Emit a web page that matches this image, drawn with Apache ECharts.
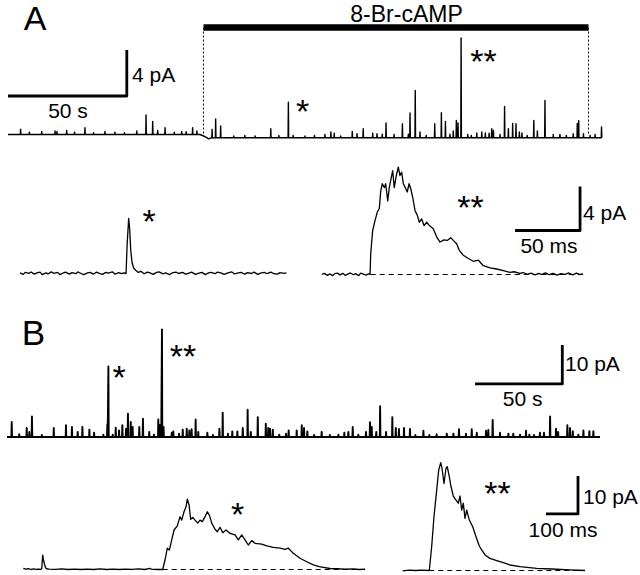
<!DOCTYPE html>
<html><head><meta charset="utf-8">
<script src="https://cdn.jsdelivr.net/npm/echarts@6/dist/echarts.min.js"></script>
<style>html,body{margin:0;padding:0;background:#fff}#c{width:640px;height:575px}</style>
</head><body><div id="c"></div>
<script>
// ---------- Panel A, long recording (time s, current pA) ----------
const aTopBaseline = [[0,0],[80.8,0],[82.5,-0.15],[84.5,-0.38],[86.5,-0.3],[250,-0.28]];
const aTopSpikesPre = [[5.3,0.45],[9,0.2],[14.2,0.26],[19.8,0.3],[20.6,0.26],[24.7,0.35],[28,0.2],[32.4,0.6],[36,0.15],[40.8,0.26],[45,0.2],[49,0.15],[54.2,0.3],[58.1,1.7],[60.9,1.13],[63,0.35],[66.1,0.6],[70,0.2],[73.1,0.26],[75,0.25],[77.7,0.6],[79.5,0.3]];
const aTopSpikesPost = [[85.9,0.73],[87.4,1.63],[89.5,1.02],[95,0.15],[99.7,0.2],[104,0.15],[110.6,0.78],[114,0.2],[118.0,3.08],[120,0.2],[125,0.15],[129,0.2],[133.4,0.29],[135.9,0.5],[137.3,0.4],[140,0.15],[144.9,0.55],[146.9,0.35],[149.5,0.78],[153.5,0.4],[155.3,0.35],[157.5,0.3],[159.1,1.28],[162.5,0.29],[166.0,1.22],[168.5,0.3],[169.2,2.15],[171.4,4.11],[173.4,0.5],[176,0.2],[179.6,1.22],[182.4,2.17],[184.1,1.42],[186,0.3],[187.4,0.58],[188.7,1.5],[189.4,1.28],[190.7,8.67],[193.5,0.29],[195,0.2],[197.3,0.41],[199.4,0.5],[200.9,0.41],[202.5,0.4],[203.6,0.78],[204.3,0.63],[207.1,0.29],[209.0,2.72],[210.6,0.78],[212.4,1.24],[213.8,1.22],[215.2,0.5],[216.3,0.41],[218.5,0.2],[221.3,1.5],[222.8,0.58],[226.0,3.24],[229.5,0.29],[232.3,0.29],[235,0.2],[237.9,0.35],[239.6,1.24],[240.2,1.48],[242.2,0.35],[245,0.2],[247.1,0.29],[249.8,0.93]];
const aPostBase = -0.28;
const drugPeriod = [82.28, 244.32];       // 8-Br-cAMP application (s)
const aTopScaleBar = [[0,3.35],[50,3.35],[50,7.35]];   // 50 s, 4 pA

// ---------- Panel A, expanded events (time ms, current pA) ----------
const aStarTrace = [[0,0.05],[2.5,-0.08],[4,0.1],[7,0.02],[8.5,0.14],[11,-0.06],[13,0.05],[15.5,0.12],[17,-0.1],[20,0.06],[21.5,-0.04],[24,0.15],[26,0.02],[29,0.1],[30.5,-0.1],[33,0.04],[35,0.12],[38,-0.06],[40,0.08],[43,-0.02],[44.5,0.14],[47,0],[49,-0.1],[52,0.06],[54,0.1],[56.5,-0.05],[59,0.12],[61,0.02],[63.5,-0.08],[66,0.1],[68,0.04],[71,0.15],[73,-0.05],[76,0.08],[78,-0.02],[80,0.05],[81.6,0],[82.4,2.6],[83.6,5.0],[84.4,4.0],[85.2,2.1],[86.2,1.0],[87.4,0.5],[89,0.3],[91,0.1],[93,0.2],[95.5,-0.02],[98,0.12],[100,0.05],[102.5,-0.08],[105,0.1],[107,0.15],[110,-0.04],[112,0.06],[115,-0.1],[117,0.05],[120,0.12],[122,0],[125,0.1],[127.5,-0.06],[130,0.04],[132,0.12],[135,-0.08],[137,0.02],[140,0.1],[142.5,-0.1],[145,0.05],[147,0.1],[150,-0.02],[152,0.12],[155,0.04],[157,-0.08],[160,0.06],[163,0.14],[165,-0.04],[168,0.06],[170,0.1],[173,-0.06],[175,0.08],[178,0],[180,0.12],[183,-0.08],[185,0.04],[188,0.1],[190,-0.02],[193,0.12],[195,0],[198,-0.06],[200,0.08],[203,0.02],[205,0.05]];
const aDoubleTrace = [[0,0],[2,0.1],[4.5,-0.08],[6,0.05],[8.5,-0.1],[10,0.08],[12.5,0.12],[14,-0.04],[16.5,0.1],[18,-0.08],[20.5,0.06],[22,0.14],[24.5,-0.02],[26,0.08],[28.5,-0.1],[30,0.12],[32.5,0.02],[34,-0.06],[36,0.06],[37.2,0],[37.7,1.9],[39.2,4.0],[41.0,4.9],[42.8,5.7],[44.3,6.0],[45.4,7.6],[46.6,8.25],[48.2,7.9],[49.2,8.25],[50.8,6.7],[52.0,7.9],[53.3,8.7],[54.6,9.45],[55.8,7.9],[57.4,9.0],[58.9,9.75],[60.2,9.0],[61.5,9.3],[62.8,8.25],[64.3,7.9],[65.8,7.5],[67.2,8.25],[68.5,7.8],[70.0,7.0],[71.8,5.8],[73.5,5.4],[75.1,4.75],[76.9,5.05],[78.7,4.45],[80.8,4.75],[82.8,4.45],[85.8,4.15],[88.5,3.4],[91.0,2.95],[94.1,3.15],[96.6,3.1],[99.2,3.35],[101.2,3.1],[103.8,2.8],[105.8,2.2],[108.9,1.75],[112.8,1.45],[116.6,1.2],[120.5,1.3],[124.3,0.8],[129.5,0.6],[134.6,0.5],[139.7,0.35],[144.8,0.2],[148,0.25],[152.5,0.1],[155,0.18],[158,0.02],[161,0.12],[164,-0.04],[167,0.1],[169,0],[172,0.14],[175,-0.02],[178,0.1],[181,-0.06],[184,0.08],[187,0.02],[190,0.14],[193,-0.04],[196,0.12],[198.5,0],[201,0.06]];
const aDoubleBaseline = [[37.7,0],[201,0]];
const aEventScaleBar = [[148.7,4],[198.7,4],[198.7,8]];  // 50 ms, 4 pA

// ---------- Panel B, long recording (time s, current pA) ----------
const bTopBaseline = [[0,0],[339.8,0]];
const bTopSpikes = [[2.7,3.85],[7.0,0.7],[11.3,2.3],[12.8,1.3],[14.3,5.3],[20,0.5],[26.8,2.3],[33.8,3.0],[37.2,2.56],[40.5,1.3],[43.2,2.56],[47.2,1.9],[49.9,1.1],[55.2,0.6],[57.5,3.3],[58.1,18.1],[60.6,0.6],[62.3,2.4],[64.2,1.7],[66.1,3.0],[68.2,2.1],[69.3,6.0],[70.9,3.85],[72.0,2.56],[75.8,2.56],[77.9,4.7],[81.5,1.3],[84.2,0.6],[86.7,4.5],[87.7,3.1],[88.2,2.4],[88.8,27.6],[89.7,2.6],[94.4,1.1],[95.3,1.45],[98.6,0.85],[100.7,1.9],[103.0,2.1],[104.5,1.7],[105.8,2.0],[108.1,4.5],[109.6,1.3],[114.8,1.1],[118,0.5],[121.7,2.1],[123.6,6.2],[126.6,0.85],[129.1,1.45],[132.0,1.45],[135.1,2.3],[137.9,7.0],[139.7,1.3],[143.7,5.1],[148.3,3.4],[149.7,2.3],[150.7,2.1],[152.3,1.9],[156.0,0.6],[159.9,0.85],[161.4,1.7],[166.0,1.7],[168.9,3.0],[170.2,2.3],[172.1,1.45],[176,0.5],[180.3,1.3],[185,0.5],[189.9,0.6],[193.3,1.1],[195.6,1.3],[198.1,2.56],[201.3,0.6],[205.7,1.3],[208.0,3.8],[209.0,2.56],[211.6,1.3],[213.8,7.9],[217.2,1.3],[220.8,5.1],[222.8,2.3],[224.6,2.05],[227.5,2.3],[230.9,2.05],[234,0.5],[238.6,1.6],[242,0.5],[246.2,0.7],[252.0,0.85],[255.8,0.85],[259.0,2.0],[263.0,0.85],[266.3,2.0],[269.2,1.1],[274.5,1.6],[275.8,1.8],[278.3,4.4],[282.5,1.1],[287.3,0.85],[290.1,0.85],[294.0,0.6],[297.4,1.6],[299.3,0.6],[302,0.5],[305.4,1.1],[307.7,1.1],[311.2,5.3],[314.6,2.1],[315.8,1.3],[321.1,3.0],[322.6,2.3],[324.2,1.5],[327.4,0.6],[330.3,1.7],[333.7,1.5],[336.0,1.5]];
const bTopScaleBar = [[268.2,13.6],[318.2,13.6],[318.2,23.6]];  // 50 s, 10 pA

// ---------- Panel B, expanded events (time ms, current pA) ----------
const bStarTrace = [[0,0.3],[8,0.1],[16,0.2],[24,0],[32,0.15],[40,0.05],[48,0.1],[54,0],[57.5,0.2],[60.6,3.8],[63,2.5],[66.9,1.2],[70,0.4],[73.1,0.2],[80,0.1],[100,0.05],[120,0.15],[140,0],[160,0.1],[180,0],[200,0.1],[220,0],[240,0.15],[260,0],[280,0.1],[300,0],[320,0.1],[340,0.05],[360,0.15],[380,0],[395,0.3],[400,0.1],[420,0],[435.6,0],[442.8,2.5],[450,5.6],[456.3,5.1],[463.8,7.8],[471,10.4],[481.3,11.5],[489.7,13.9],[495,13.0],[502.2,15.2],[508.4,16.5],[512.5,18.5],[517.8,17.0],[523.1,13.2],[529.4,13.7],[536.6,13.0],[545,12.2],[552.2,13.0],[559.4,12.6],[567.8,13.9],[575,15.2],[581.3,14.3],[588.8,12.2],[599,10.6],[606.3,9.95],[614.7,11.1],[623.1,9.7],[633.4,10.4],[645.9,9.5],[661.6,9.1],[671.9,7.8],[682.5,9.1],[692.8,7.8],[703.1,6.45],[713.8,7.6],[724.1,6.9],[745,6.7],[760.6,6.2],[781.3,5.85],[802.2,5.6],[817.8,5.3],[828.1,5.6],[843.8,4.25],[864.7,2.95],[885.6,2.05],[906.3,1.2],[925,0.75],[958,0.26],[980,0.2],[1005,0.1],[1030,0.15],[1050,0],[1068,0.1]];
const bStarBaseline = [[435.6,0],[1068,0]];
const bDoubleTrace = [[0,-0.1],[20,0.1],[40,0],[60,0.1],[83.1,0],[90.6,6.3],[97.8,14.2],[106.3,21.2],[112.5,26.4],[118.8,28.4],[122.8,26.9],[129.1,22.9],[135.3,26.9],[139.4,27.3],[145.6,24.7],[150.9,22.1],[158.1,19.6],[166.6,18.55],[173.8,17.7],[179.1,19.6],[184.4,15.9],[189.4,17.7],[194.7,13.7],[200,15.9],[208.1,13.3],[218.8,11.5],[229.1,8.9],[239.4,6.45],[246.9,5.4],[257.2,4.1],[272.8,3.2],[293.8,2.6],[314.4,2.05],[335.3,1.45],[366.6,1.0],[418.8,0.55],[466.6,0.4],[520,0.15],[569.7,0]];
const bDoubleBaseline = [[83.1,0],[569.7,0]];
const bEventScaleBar = [[447.8,14.9],[547.8,14.9],[547.8,24.9]];  // 100 ms, 10 pA

// ---------- build ----------
function withSpikes(baseline, spikeSets, hw) {
  const pts = baseline.map(p => p.slice());
  spikeSets.forEach(([spikes, base]) => {
    spikes.forEach(([t, a]) => {
      pts.push([t - hw, base], [t, base + a], [t + hw, base]);
    });
  });
  pts.sort((p, q) => p[0] - q[0]);
  return pts;
}
const aTopData = withSpikes(aTopBaseline, [[aTopSpikesPre, 0], [aTopSpikesPost, aPostBase]], 0.12);
const bTopData = withSpikes(bTopBaseline, [[bTopSpikes, 0]], 0.18);

const grids = [
  {left: 8, top: 19.5, width: 594, height: 126.5},       // A long
  {left: 20, top: 163.5, width: 267, height: 121},       // A *
  {left: 321.7, top: 164.5, width: 261.6, height: 121},  // A **
  {left: 7, top: 320, width: 593, height: 120.9},        // B long
  {left: 23.3, top: 455.5, width: 341.8, height: 117.8}, // B *
  {left: 402.7, top: 456.5, width: 182.4, height: 117.8} // B **
];
const xRanges = [[0,250],[0,205.4],[0,201.2],[0,339.8],[0,1068],[0,570]];
const yRanges = [[-1,10],[-1,10],[-1,10],[-1,30],[-1,30],[-1,30]];

function ser(g, data, width, type, z) {
  return {
    type: 'line', xAxisIndex: g, yAxisIndex: g, data: data,
    symbol: 'none', showSymbol: false, silent: true, animation: false, clip: false,
    lineStyle: {color: '#000', width: width, type: type || 'solid', join: 'round', cap: 'butt'},
    z: z || 2
  };
}

const series = [
  ser(0, aTopData, 1.4),
  ser(0, [[drugPeriod[0], 9.3], [drugPeriod[1], 9.3]], 6.5, 'solid', 3),
  ser(0, [[drugPeriod[0], 9.3], [drugPeriod[0], -0.2]], 1, [2, 2]),
  ser(0, [[drugPeriod[1], 9.3], [drugPeriod[1], -0.1]], 1, [2, 2]),
  ser(0, aTopScaleBar, 2.8),
  ser(1, aStarTrace, 1.3),
  ser(2, aDoubleBaseline, 1, [5, 4], 1),
  ser(2, aDoubleTrace, 1.3),
  ser(2, aEventScaleBar, 2.8),
  ser(3, bTopData, 1.9),
  ser(3, bTopScaleBar, 2.8),
  ser(4, bStarBaseline, 1, [5, 4], 1),
  ser(4, bStarTrace, 1.3),
  ser(5, bDoubleBaseline, 1, [5, 4], 1),
  ser(5, bDoubleTrace, 1.3),
  ser(5, bEventScaleBar, 2.8)
];

const FONT = "'Liberation Sans', Arial, Helvetica, sans-serif";
function txt(x, y, s, size, align) {
  return {type: 'text', x: x, y: y, silent: true,
    style: {text: s, fontSize: size, fontFamily: FONT, fill: '#000',
      textAlign: align || 'center', textVerticalAlign: 'middle',
      align: align || 'center', verticalAlign: 'middle'}};
}
const labels = [
  txt(35, 17.8, 'A', 34), txt(33.5, 332, 'B', 35),
  txt(406.5, 13.5, '8-Br-cAMP', 23),
  txt(132, 74.5, '4 pA', 21, 'left'), txt(68, 110.5, '50 s', 21),
  txt(583, 212.7, '4 pA', 21, 'left'), txt(549, 245.5, '50 ms', 21),
  txt(565, 363.5, '10 pA', 21, 'left'), txt(522.7, 398.5, '50 s', 21),
  txt(583, 496.5, '10 pA', 21, 'left'), txt(563, 529, '100 ms', 21),
  txt(302.5, 110.8, '*', 34), txt(483.5, 60.8, '**', 34),
  txt(149, 221.3, '*', 34), txt(470.5, 207.3, '**', 34),
  txt(119, 377.3, '*', 34), txt(183, 355.8, '**', 34),
  txt(237.5, 514.3, '*', 34), txt(497.5, 493.3, '**', 34)
];

const chart = echarts.init(document.getElementById('c'), null, {renderer: 'svg'});
chart.setOption({
  backgroundColor: '#fff',
  animation: false,
  grid: grids.map(g => Object.assign({containLabel: false, show: false}, g)),
  xAxis: xRanges.map((r, i) => ({type: 'value', gridIndex: i, min: r[0], max: r[1], show: false})),
  yAxis: yRanges.map((r, i) => ({type: 'value', gridIndex: i, min: r[0], max: r[1], show: false})),
  series: series,
  graphic: {elements: labels}
});
</script></body></html>
